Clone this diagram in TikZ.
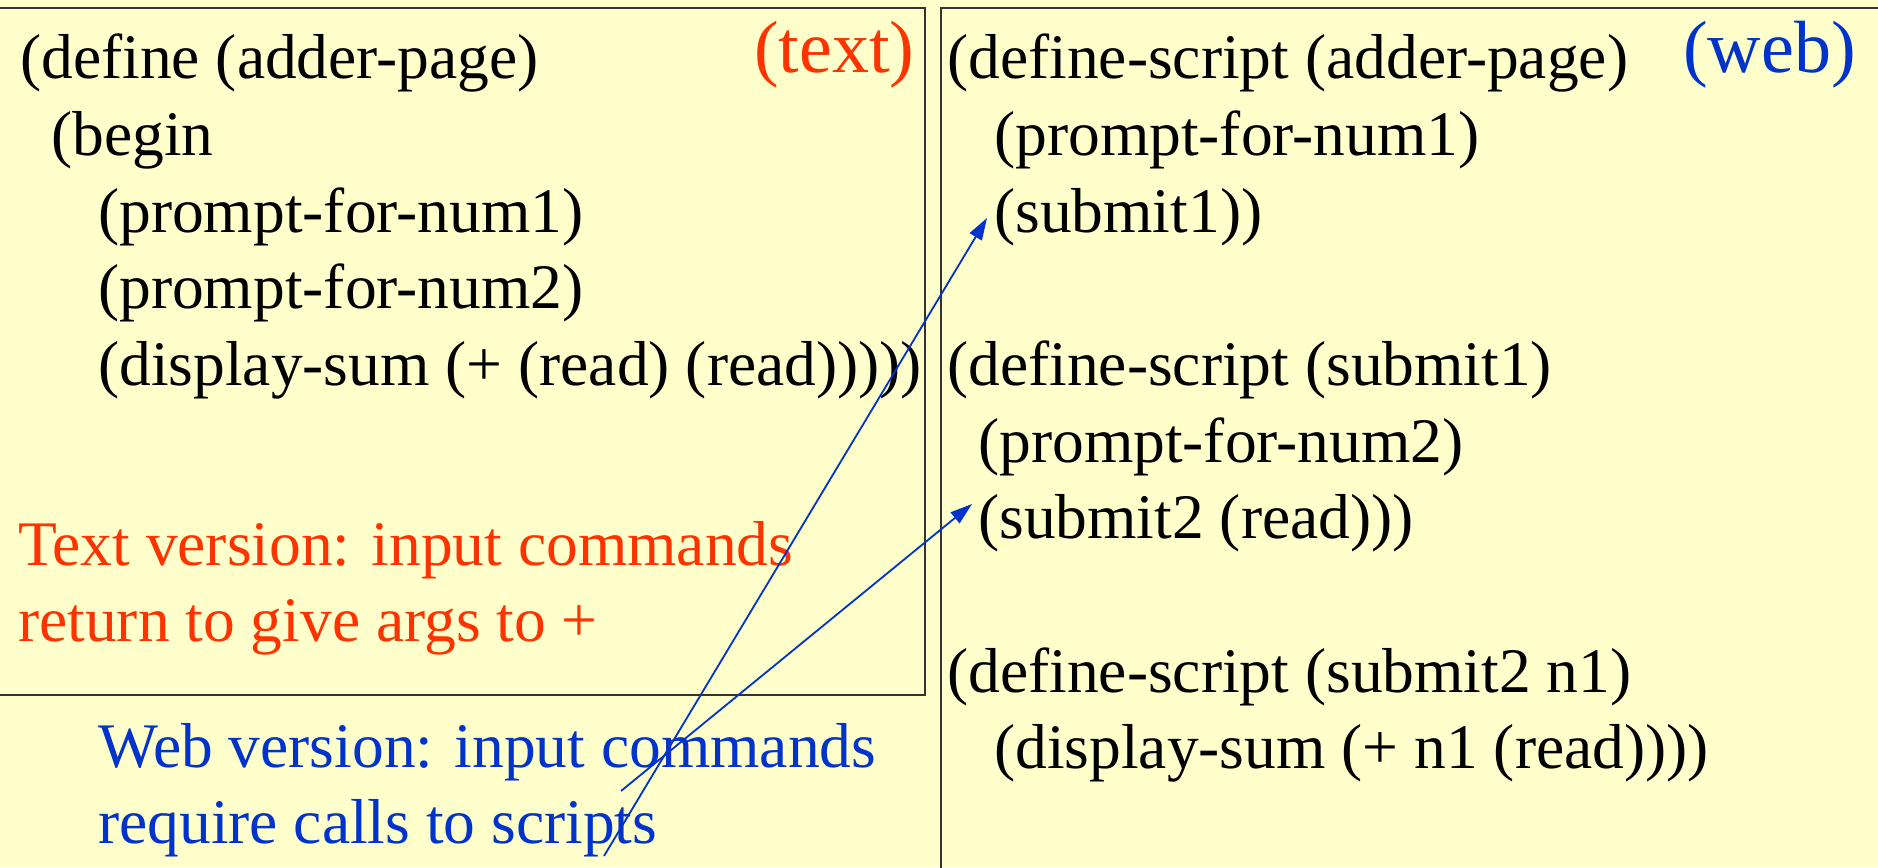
\documentclass[tikz,border=0pt]{standalone}
\usepackage{fontspec}
\setmainfont{Liberation Serif}
\usetikzlibrary{arrows.meta}
\definecolor{bgyellow}{HTML}{FFFFCC}
\definecolor{tred}{HTML}{FF3300}
\definecolor{wblue}{HTML}{0033CC}
\definecolor{frame}{HTML}{333333}
\begin{document}
\begin{tikzpicture}[x=1pt,y=-1pt,
  code/.style={anchor=base west, inner sep=0pt, text=black, font=\fontsize{63.5}{77}\selectfont},
  redtxt/.style={code, text=tred},
  bluetxt/.style={code, text=wblue},
  tag/.style={anchor=base west, inner sep=0pt, font=\fontsize{74}{88}\selectfont},
  panel/.style={draw=frame, line width=2pt},
  link/.style={draw=wblue, line width=1.8pt, -{Triangle[length=22pt,width=14pt]}}]
\path[use as bounding box] (0,0) rectangle (1878,867);
\fill[bgyellow] (0,0) rectangle (1878,867);
\clip (0,0) rectangle (1878,867);
% panels
\draw[panel] (-5,8) rectangle (925,695);
\draw[panel] (941,8) rectangle (1890,880);
% left panel text
\node[code] (l1) at (20,78) {(define (adder-page)};
\node[code] (l2) at (51,155) {(begin};
\node[code] (l3) at (98,232) {(prompt-for-num1)};
\node[code] (l4) at (98,308) {(prompt-for-num2)};
\node[code] (l5) at (98,385) {(display-sum (+ (read) (read)))))};
\node[tag, text=tred] (ttag) at (754,73) {(text)};
\node[redtxt] (r1) at (18,565) {Text version: input commands};
\node[redtxt] (r2) at (18,641) {return to give args to +};
\node[bluetxt] (b1) at (98,767) {Web version: input commands};
\node[bluetxt] (b2) at (98,843) {require calls to scripts};
% right panel text
\node[code] (d1) at (947,78) {(define-script (adder-page)};
\node[tag, text=wblue] (wtag) at (1683,73) {(web)};
\node[code] (p1) at (994,155) {(prompt-for-num1)};
\node[code] (s1) at (994,232) {(submit1))};
\node[code] (d2) at (947,385) {(define-script (submit1)};
\node[code] (p2) at (978,462) {(prompt-for-num2)};
\node[code] (s2) at (978,538) {(submit2 (read)))};
\node[code] (d3) at (947,692) {(define-script (submit2 n1)};
\node[code] (p3) at (994,768) {(display-sum (+ n1 (read))))};
% connectors
\coordinate (w1) at (604,856);
\coordinate (w2) at (621,791);
\draw[link] (w1) -- ([shift={(-7,-14)}]s1.base west);
\draw[link] (w2) -- ([shift={(-6,-34)}]s2.base west);
\end{tikzpicture}
\end{document}
